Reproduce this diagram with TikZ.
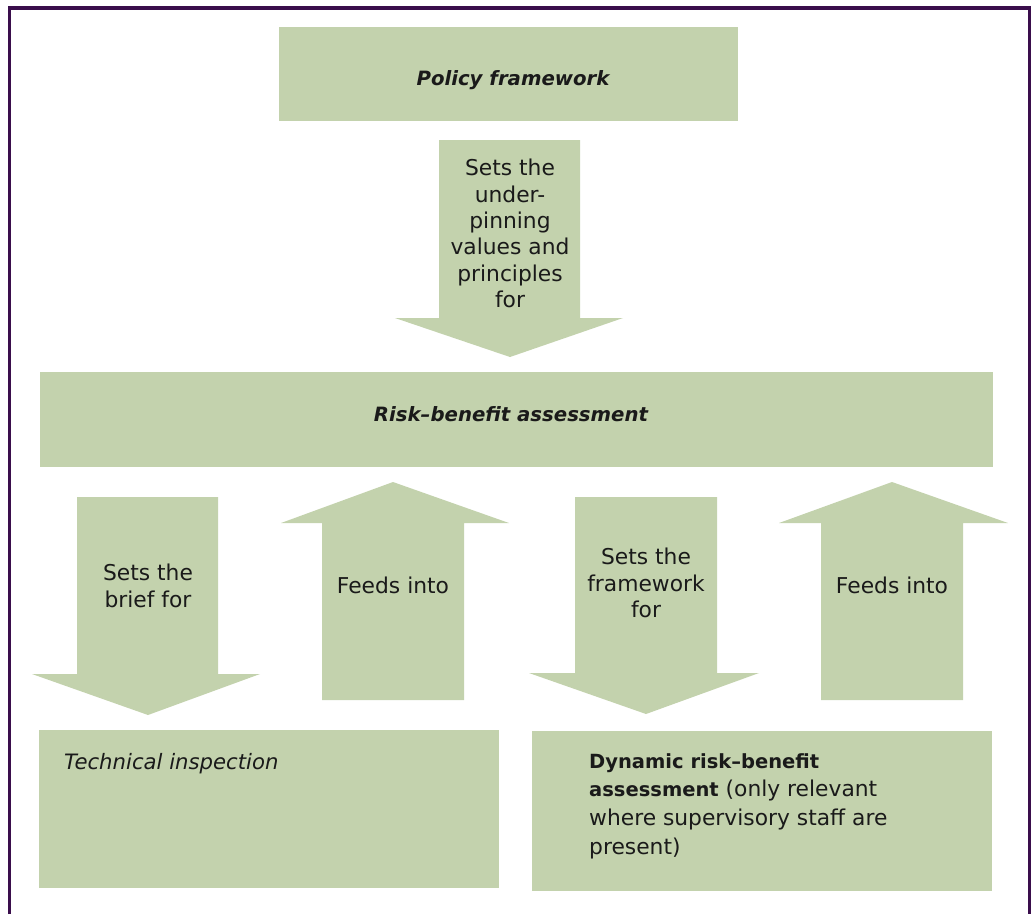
\documentclass[tikz,border=0pt]{standalone}
\usepackage{fontspec}
\setmainfont{DejaVu Sans}
\definecolor{boxgreen}{RGB}{195,210,173}
\definecolor{framecol}{RGB}{58,14,76}
\definecolor{ink}{RGB}{26,26,26}
\newcommand{\bsmall}[1]{{\bfseries\fontsize{19.5}{28.7}\selectfont #1}}
\begin{document}
\begin{tikzpicture}[x=1pt,y=-1pt,
  box/.style={fill=boxgreen, draw=none, inner sep=0pt, text=ink, anchor=north west},
  arrowshape/.style={fill=boxgreen, draw=none},
  lbl/.style={text=ink, inner sep=0pt, align=center, font=\fontsize{21.8}{26.4}\selectfont},
  title/.style={text=ink, inner sep=0pt, font=\bfseries\itshape\fontsize{19.7}{25}\selectfont}]
\useasboundingbox (0,0) rectangle (1032,914);
% frame
\draw[framecol, line width=3.2pt] (9.5,914) -- (9.5,8) -- (1029.5,8) -- (1029.5,914);
% boxes
\node[box, minimum width=459pt, minimum height=94pt] (policy) at (279,27) {};
\node[box, minimum width=953pt, minimum height=95pt] (rba) at (40,372) {};
\node[box, minimum width=460pt, minimum height=158pt] (tech) at (39,730) {};
\node[box, minimum width=460pt, minimum height=160pt] (dyn) at (532,731) {};
\node[title] (policytxt) at (513,80) {Policy framework};
\node[title] (rbatxt) at (511,414) {Risk–benefit assessment};
% arrows
\fill[arrowshape] (439,140) -- (580,140) -- (580,318) -- (623,318) -- (510,357) -- (395,318) -- (439,318) -- cycle;
\fill[arrowshape] (77,497) -- (218,497) -- (218,674) -- (260,674) -- (148,715) -- (32,674) -- (77,674) -- cycle;
\fill[arrowshape] (393,482) -- (509,523) -- (464,523) -- (464,700) -- (322,700) -- (322,523) -- (281,523) -- cycle;
\fill[arrowshape] (575,497) -- (717,497) -- (717,673) -- (759,673) -- (646,714) -- (529,673) -- (575,673) -- cycle;
\fill[arrowshape] (892,482) -- (1008,523) -- (963,523) -- (963,700) -- (821,700) -- (821,523) -- (779,523) -- cycle;
% arrow labels
\node[lbl, anchor=north] (l1) at (510,159) {Sets the\\under-\\pinning\\values and\\principles\\for};
\node[lbl, anchor=north] (l2) at (148,564) {Sets the\\brief for};
\node[lbl] (l3) at (393,585) {Feeds into};
\node[lbl, anchor=north] (l4) at (646,548) {Sets the\\framework\\for};
\node[lbl] (l5) at (892,585) {Feeds into};
% box texts
\node[lbl, anchor=north west, font=\itshape\fontsize{21.2}{26.4}\selectfont] (techtxt) at (64,753) {Technical inspection};
\node[lbl, anchor=north west, align=left, font=\fontsize{21.8}{28.7}\selectfont] (dyntxt) at (589,753) {\bsmall{Dynamic risk–benefit}\\\bsmall{assessment} (only relevant\\where supervisory staff are\\present)};
\end{tikzpicture}
\end{document}
